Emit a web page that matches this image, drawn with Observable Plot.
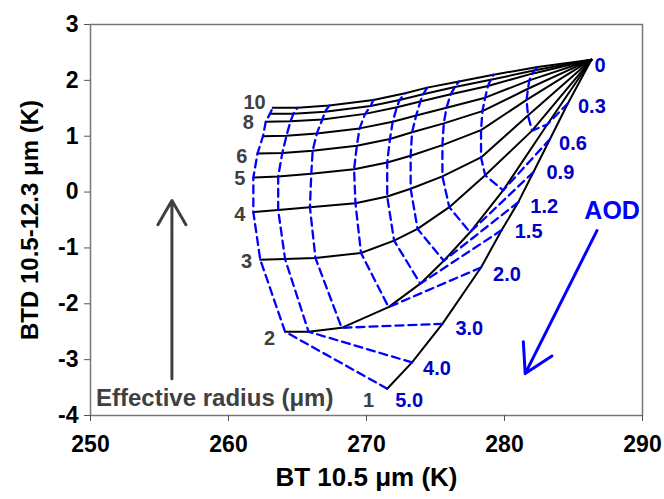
<!DOCTYPE html>
<html><head><meta charset="utf-8">
<script src="https://cdn.jsdelivr.net/npm/d3@7"></script>
<script src="https://cdn.jsdelivr.net/npm/@observablehq/plot@0.6"></script>
<style>body{margin:0;background:#fff} #chart svg{display:block}</style>
</head><body><div id="chart"></div>
<script>
// AOD steps along each effective-radius line (index order used by every array below)
const aodValues = [0, 0.3, 0.6, 0.9, 1.2, 1.5, 2.0, 3.0, 4.0, 5.0];
const aodLabels = ["0", "0.3", "0.6", "0.9", "1.2", "1.5", "2.0", "3.0", "4.0", "5.0"];
const radii = [1, 2, 3, 4, 5, 6, 7, 8, 9, 10];
const labelledRadii = [1, 2, 3, 4, 5, 6, 8, 10];

// BT 10.5 µm (K) for each radius, AOD 0 -> 5.0
const bt_r1  = [286.3, 284.6, 283.3, 282.1, 281.0, 279.8, 278.3, 275.5, 273.3, 271.5];
const bt_r2  = [286.3, 283.1, 279.9, 277.5, 275.6, 273.9, 271.6, 268.2, 265.8, 264.1];
const bt_r3  = [286.3, 282.0, 278.6, 276.0, 273.7, 272.0, 269.6, 266.3, 264.1, 262.3];
const bt_r4  = [286.3, 281.7, 278.3, 275.5, 273.2, 271.5, 269.2, 265.9, 263.6, 261.8];
const bt_r5  = [286.3, 281.6, 278.3, 275.5, 273.2, 271.5, 269.1, 266.0, 263.6, 261.8];
const bt_r6  = [286.3, 281.7, 278.4, 275.6, 273.3, 271.7, 269.3, 266.1, 263.9, 262.1];
const bt_r7  = [286.3, 281.8, 278.6, 275.8, 273.6, 271.9, 269.5, 266.4, 264.2, 262.5];
const bt_r8  = [286.3, 282.0, 278.8, 276.1, 273.9, 272.2, 269.9, 266.8, 264.5, 262.7];
const bt_r9  = [286.3, 282.2, 279.0, 276.4, 274.1, 272.4, 270.3, 267.0, 264.7, 263.0];
const bt_r10 = [286.3, 282.4, 279.2, 276.7, 274.4, 272.8, 270.5, 267.3, 265.0, 263.2];

// BTD 10.5-12.3 µm (K) for each radius, AOD 0 -> 5.0
const btd_r1  = [2.37, 1.59, 0.95, 0.36, -0.18, -0.68, -1.35, -2.36, -3.05, -3.52];
const btd_r2  = [2.37, 1.21, 0.03, -0.72, -1.23, -1.64, -2.06, -2.43, -2.50, -2.50];
const btd_r3  = [2.37, 1.10, 0.30, -0.27, -0.66, -0.87, -1.09, -1.18, -1.20, -1.21];
const btd_r4  = [2.37, 1.37, 0.62, 0.28, 0.06, -0.08, -0.20, -0.27, -0.32, -0.36];
const btd_r5  = [2.37, 1.65, 1.11, 0.84, 0.65, 0.53, 0.41, 0.33, 0.28, 0.26];
const btd_r6  = [2.37, 1.85, 1.45, 1.23, 1.07, 0.95, 0.83, 0.74, 0.70, 0.69];
const btd_r7  = [2.37, 2.00, 1.69, 1.51, 1.37, 1.26, 1.14, 1.05, 1.01, 1.00];
const btd_r8  = [2.37, 2.12, 1.90, 1.75, 1.62, 1.52, 1.40, 1.30, 1.27, 1.26];
const btd_r9  = [2.37, 2.18, 2.01, 1.88, 1.75, 1.65, 1.54, 1.44, 1.40, 1.40];
const btd_r10 = [2.37, 2.24, 2.10, 1.98, 1.87, 1.77, 1.65, 1.55, 1.51, 1.51];

const xTicks = [250, 260, 270, 280, 290];
const yTicks = [-4, -3, -2, -1, 0, 1, 2, 3];

// annotation anchors (data units)
const radiusArrow = [{x1: 255.9, y1: -3.34, x2: 255.9, y2: -0.15}];
const aodArrow = [{x1: 286.7, y1: -0.69, x2: 281.5, y2: -3.25}];
const radiusTitle = [{x: 250.4, y: -3.70, text: "Effective radius (\u03bcm)"}];
const aodTitle = [{x: 287.8, y: -0.33, text: "AOD"}];

const btRows = [bt_r1, bt_r2, bt_r3, bt_r4, bt_r5, bt_r6, bt_r7, bt_r8, bt_r9, bt_r10];
const btdRows = [btd_r1, btd_r2, btd_r3, btd_r4, btd_r5, btd_r6, btd_r7, btd_r8, btd_r9, btd_r10];

const grid = [];
radii.forEach((r, i) => aodValues.forEach((a, j) => grid.push({r, aod: a, j, bt: btRows[i][j], btd: btdRows[i][j]})));

const radiusLines = grid.slice().sort((a, b) => a.r - b.r || a.j - b.j);
const aodLines = grid.filter(d => d.aod > 0).sort((a, b) => a.j - b.j || a.r - b.r);

const labelGray = "#404040";
const labelBlue = "#0000C8";

// pixel nudges for each label (style only)
const radiusLabelNudge = {1: [-13, 12], 2: [-10, 7], 3: [-8, 2], 4: [-8, 2], 5: [-8, 1], 6: [-10, 3], 8: [-12, 1], 10: [-7, -5]};
const aodLabelNudge = [[3, 6], [10, 3], [9, 5], [13, 1], [12, 4], [13, 2], [12, 7], [13, 5], [11, 6], [8, 12]];

const radiusLabelMarks = labelledRadii.map(r => {
  const d = grid.find(g => g.r === r && g.aod === 5.0);
  const [dx, dy] = radiusLabelNudge[r];
  return Plot.text([d], {x: "bt", y: "btd", text: d => String(d.r), textAnchor: "end", dx, dy,
    fill: labelGray, fontSize: 20, fontWeight: "bold"});
});
const aodLabelMarks = aodValues.map((a, j) => {
  const d = grid.find(g => g.r === 1 && g.j === j);
  const [dx, dy] = aodLabelNudge[j];
  return Plot.text([d], {x: "bt", y: "btd", text: () => aodLabels[j], textAnchor: "start", dx, dy,
    fill: labelBlue, fontSize: 20, fontWeight: "bold"});
});

const chart = Plot.plot({
  width: 664,
  height: 499,
  marginLeft: 90,
  marginRight: 22,
  marginTop: 24,
  marginBottom: 84,
  style: {fontFamily: "Arial, 'Liberation Sans', sans-serif", fontWeight: "bold", fontSize: "23px", color: "#000", background: "#fff"},
  x: {domain: [250, 290]},
  y: {domain: [-4, 3]},
  marks: [
    Plot.frame({stroke: "#777", strokeWidth: 1.5}),
    Plot.axisX({ticks: xTicks, tickSize: 6, tickPadding: 14, tickFormat: d => String(d), label: null, stroke: "#555", fontSize: 23, fontWeight: "bold"}),
    Plot.axisY({ticks: yTicks, tickSize: 6, tickPadding: 6, tickFormat: d => String(d), label: null, stroke: "#555", fontSize: 23, fontWeight: "bold"}),
    Plot.text(["BT 10.5 \u03bcm (K)"], {frameAnchor: "bottom", dy: 70, textAnchor: "middle", fontSize: 26, fontWeight: "bold", fill: "#000"}),
    Plot.text(["BTD 10.5-12.3 \u03bcm (K)"], {frameAnchor: "left", dx: -60, rotate: -90, textAnchor: "middle", fontSize: 24, fontWeight: "bold", fill: "#000"}),
    Plot.line(radiusLines, {x: "bt", y: "btd", z: "r", stroke: "#000", strokeWidth: 2, curve: "linear"}),
    Plot.line(aodLines, {x: "bt", y: "btd", z: "aod", stroke: "#0000FF", strokeWidth: 2.3, strokeDasharray: "8,5", curve: "linear"}),
    ...radiusLabelMarks,
    ...aodLabelMarks,
    Plot.arrow(radiusArrow, {x1: "x1", y1: "y1", x2: "x2", y2: "y2", stroke: labelGray, strokeWidth: 3, headLength: 14}),
    Plot.arrow(aodArrow, {x1: "x1", y1: "y1", x2: "x2", y2: "y2", stroke: "#0000FF", strokeWidth: 3, headLength: 16}),
    Plot.text(radiusTitle, {x: "x", y: "y", text: "text", textAnchor: "start", fill: labelGray, fontSize: 24, fontWeight: "bold"}),
    Plot.text(aodTitle, {x: "x", y: "y", text: "text", fill: "#0000FF", fontSize: 25, fontWeight: "bold"})
  ]
});
document.getElementById("chart").appendChild(chart);
</script>
</body></html>
